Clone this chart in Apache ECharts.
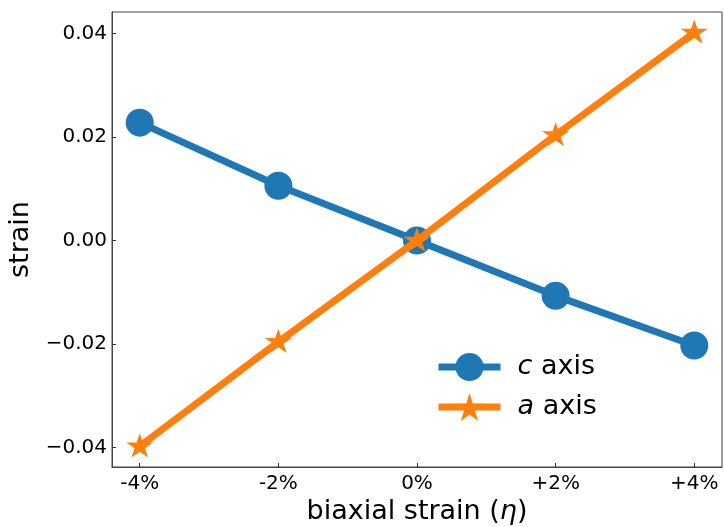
<!DOCTYPE html>
<html>
<head>
<meta charset="utf-8">
<script src="https://cdn.jsdelivr.net/npm/echarts@6/dist/echarts.min.js"></script>
<style>
  html, body { margin: 0; padding: 0; background: #fff; }
  #chart { width: 724px; height: 527px; }
</style>
</head>
<body>
<div id="chart"></div>
<script>
// Biaxial strain (%) applied in-plane
const strainPct = [-4, -2, 0, 2, 4];
// Resulting lattice strain along c and a
const cAxisStrain = [0.0228, 0.0106, 0.0, -0.0107, -0.0203];
const aAxisStrain = [-0.0398, -0.0196, 0.0, 0.0204, 0.0402];
const xTickValues = [-4, -2, 0, 2, 4];
const xTickLabels = ['-4%', '-2%', '0%', '+2%', '+4%'];
const yTickValues = [-0.04, -0.02, 0, 0.02, 0.04];

const FONT = 'DejaVu Sans';
const BLUE = '#1f77b4';
const ORANGE = '#ff7f0e';
const STAR = 'path://M100 0 L122.45 69.1 L195.1 69.1 L136.3 111.8 L158.8 180.9 L100 138.2 L41.2 180.9 L63.7 111.8 L4.9 69.1 L77.55 69.1 Z';

const pairs = (xs, ys) => xs.map((x, i) => [x, ys[i]]);

const chart = echarts.init(document.getElementById('chart'), null, { renderer: 'canvas' });

chart.setOption({
  animation: false,
  backgroundColor: '#fff',
  grid: {
    left: 112, top: 12, right: 2, bottom: 60,
    containLabel: false,
    outerBoundsMode: 'none',
    show: true, borderColor: '#444', borderWidth: 1, backgroundColor: 'transparent'
  },
  xAxis: {
    type: 'value',
    min: -4.4, max: 4.4,
    axisLine: { show: true, onZero: false, lineStyle: { color: '#444', width: 1 } },
    axisTick: { show: true, inside: true, length: 4, customValues: xTickValues, lineStyle: { color: '#333' } },
    axisLabel: {
      customValues: xTickValues,
      formatter: v => xTickLabels[xTickValues.indexOf(Math.round(v))] || '',
      color: '#000', fontFamily: FONT, fontSize: 20, margin: 7
    },
    splitLine: { show: false },
    name: 'biaxial strain ({i|η})',
    nameLocation: 'middle',
    nameGap: 28,
    nameTextStyle: {
      color: '#000', fontFamily: FONT, fontSize: 27, verticalAlign: 'top',
      rich: { i: { fontFamily: FONT, fontSize: 27, fontStyle: 'italic', color: '#000' } }
    }
  },
  yAxis: {
    type: 'value',
    min: -0.0438, max: 0.0442,
    axisLine: { show: true, onZero: false, lineStyle: { color: '#444', width: 1 } },
    axisTick: { show: true, inside: true, length: 4, customValues: yTickValues, lineStyle: { color: '#333' } },
    axisLabel: {
      customValues: yTickValues,
      formatter: v => (v < -1e-9 ? '\u2212' : '') + Math.abs(v).toFixed(2),
      color: '#000', fontFamily: FONT, fontSize: 20, margin: 5,
      padding: [8, 0, 0, 0]
    },
    splitLine: { show: false },
    name: 'strain',
    nameLocation: 'middle',
    nameGap: 64,
    nameTextStyle: { color: '#000', fontFamily: FONT, fontSize: 27 }
  },
  legend: {
    orient: 'vertical',
    left: 435, top: 353,
    padding: 0,
    itemWidth: 62, itemHeight: 35, itemGap: 12,
    lineStyle: { width: 7 },
    data: ['c axis', 'a axis'],
    formatter: name => '{i|' + name.charAt(0) + '} ' + name.slice(2),
    textStyle: {
      color: '#000', fontFamily: FONT, fontSize: 27, padding: [0, 0, 0, 12],
      rich: { i: { fontFamily: FONT, fontSize: 27, fontStyle: 'italic', color: '#000' } }
    }
  },
  series: [
    {
      name: 'c axis',
      type: 'line',
      data: pairs(strainPct, cAxisStrain),
      symbol: 'circle',
      symbolSize: 28,
      lineStyle: { color: BLUE, width: 7 },
      itemStyle: { color: BLUE, borderWidth: 0 },
      z: 2
    },
    {
      name: 'a axis',
      type: 'line',
      data: pairs(strainPct, aAxisStrain),
      symbol: STAR,
      symbolSize: [27, 25.5],
      symbolKeepAspect: true,
      symbolOffset: [0, -1],
      lineStyle: { color: ORANGE, width: 7 },
      itemStyle: { color: ORANGE, borderWidth: 0 },
      z: 3
    }
  ]
});
</script>
</body>
</html>
